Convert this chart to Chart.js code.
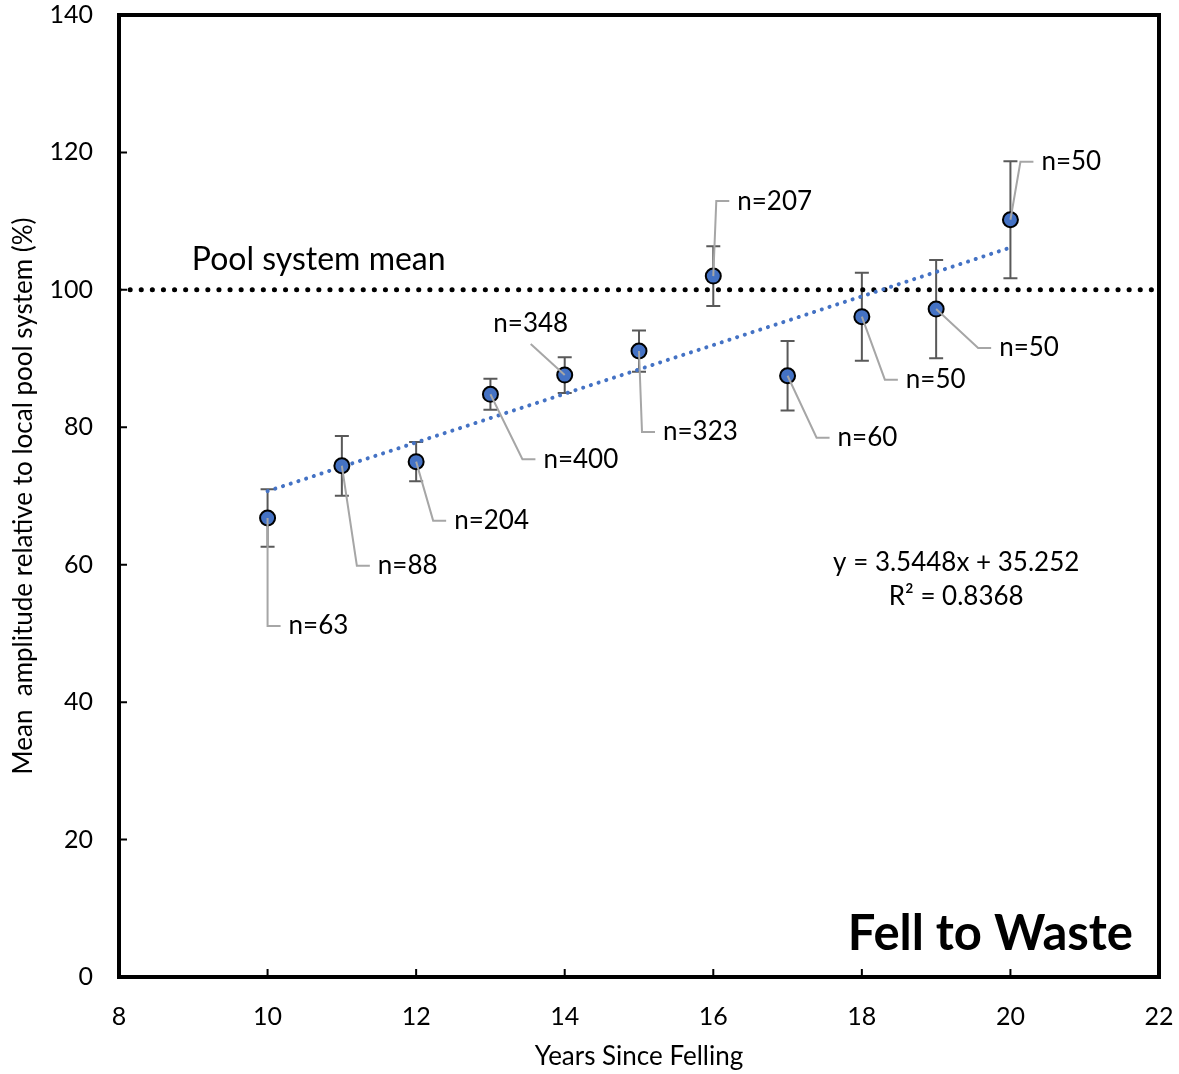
<!DOCTYPE html>
<html>
<head>
<meta charset="utf-8">
<script src="https://cdn.jsdelivr.net/npm/chart.js@4"></script>
<style>
  html, body { margin: 0; padding: 0; background: #fff; }
  #wrap { width: 1179px; height: 1074px; }
</style>
</head>
<body>
<div id="wrap"><canvas id="myChart" width="1179" height="1074"></canvas></div>
<script>
// data
const years = [10, 11, 12, 13, 14, 15, 16, 17, 18, 19, 20];
const meanAmplitude = [66.8, 74.4, 75.0, 84.8, 87.6, 91.1, 102.0, 87.5, 96.1, 97.2, 110.2];
const errorSize = [4.2, 4.35, 2.85, 2.25, 2.6, 3.0, 4.35, 5.05, 6.4, 7.15, 8.5];
const sampleSizes = [63, 88, 204, 400, 348, 323, 207, 60, 50, 50, 50];
const xTicks = [8, 10, 12, 14, 16, 18, 20, 22];
const yTicks = [0, 20, 40, 60, 80, 100, 120, 140];
const poolMean = 100;
const trendSlope = 3.5448;
const trendIntercept = 35.252;
const trendR2 = 0.8368;

// where the n= labels sit, pixel offset of the elbow from the point
const labelLayout = [
  { dx: 0, dy: 108 }, { dx: 15, dy: 100 }, { dx: 17, dy: 59 }, { dx: 32, dy: 65 },
  { dx: -34, dy: -31, above: true }, { dx: 3, dy: 81 }, { dx: 3, dy: -75 },
  { dx: 29, dy: 62 }, { dx: 23, dy: 63 }, { dx: 42, dy: 39 }, { dx: 10, dy: -58 }
];

const FONT = 'Lato, "Open Sans", sans-serif';
const BLUE = '#4472C4';

const trendX = [years[0], years[years.length - 1]];

const extras = {
  id: 'extras',
  beforeDatasetsDraw(chart) {
    const { ctx, scales: { x, y } } = chart;
    ctx.save();
    ctx.strokeStyle = '#595959';
    ctx.lineWidth = 2;
    years.forEach((yr, i) => {
      const px = x.getPixelForValue(yr);
      const top = y.getPixelForValue(meanAmplitude[i] + errorSize[i]);
      const bot = y.getPixelForValue(meanAmplitude[i] - errorSize[i]);
      ctx.beginPath();
      ctx.moveTo(px, top); ctx.lineTo(px, bot);
      ctx.moveTo(px - 7, top); ctx.lineTo(px + 7, top);
      ctx.moveTo(px - 7, bot); ctx.lineTo(px + 7, bot);
      ctx.stroke();
    });
    ctx.restore();
  },
  afterDatasetsDraw(chart) {
    const { ctx, chartArea: a, scales: { x, y } } = chart;
    ctx.save();
    // leader lines + n= labels
    ctx.font = '26px ' + FONT;
    ctx.fillStyle = '#000';
    ctx.textBaseline = 'middle';
    years.forEach((yr, i) => {
      const px = x.getPixelForValue(yr);
      const py = y.getPixelForValue(meanAmplitude[i]);
      const l = labelLayout[i];
      const ex = px + l.dx, ey = py + l.dy;
      ctx.strokeStyle = '#A6A6A6';
      ctx.lineWidth = 2;
      ctx.beginPath();
      ctx.moveTo(px, py);
      ctx.lineTo(ex, ey);
      if (!l.above) ctx.lineTo(ex + 13, ey);
      ctx.stroke();
      if (l.above) {
        ctx.textAlign = 'center';
        ctx.fillText('n=' + sampleSizes[i], ex, ey - 20);
      } else {
        ctx.textAlign = 'left';
        ctx.fillText('n=' + sampleSizes[i], ex + 21, ey);
      }
    });

    // pool mean label
    ctx.textAlign = 'left';
    ctx.font = '32px ' + FONT;
    ctx.fillText('Pool system mean', x.getPixelForValue(8.98), y.getPixelForValue(104.4));

    // trendline equation
    ctx.textAlign = 'center';
    ctx.font = '26px ' + FONT;
    const ex = x.getPixelForValue(19.27);
    ctx.fillText('y = ' + trendSlope + 'x + ' + trendIntercept, ex, y.getPixelForValue(60.3));
    ctx.fillText('R\u00B2 = ' + trendR2, ex, y.getPixelForValue(55.4));

    // panel title
    ctx.textAlign = 'right';
    ctx.textBaseline = 'alphabetic';
    ctx.font = 'bold 49px ' + FONT;
    ctx.fillText('Fell to Waste', a.right - 26, a.bottom - 27);

    // frame and inner ticks
    ctx.strokeStyle = '#000';
    ctx.lineWidth = 4;
    ctx.strokeRect(a.left, a.top, a.right - a.left, a.bottom - a.top);
    ctx.lineWidth = 2;
    ctx.beginPath();
    xTicks.forEach(t => {
      const px = x.getPixelForValue(t);
      ctx.moveTo(px, a.bottom); ctx.lineTo(px, a.bottom - 8);
    });
    yTicks.forEach(t => {
      const py = y.getPixelForValue(t);
      ctx.moveTo(a.left, py); ctx.lineTo(a.left + 8, py);
    });
    ctx.stroke();
    ctx.restore();
  }
};

new Chart(document.getElementById('myChart'), {
  type: 'scatter',
  data: {
    datasets: [
      {
        label: 'Pool system mean',
        data: [{ x: xTicks[0], y: poolMean }, { x: xTicks[xTicks.length - 1], y: poolMean }],
        showLine: true,
        borderColor: '#000',
        borderWidth: 5,
        borderDash: [0.1, 11],
        borderCapStyle: 'round',
        pointRadius: 0,
        order: 3
      },
      {
        label: 'Trend',
        data: trendX.map(v => ({ x: v, y: trendSlope * v + trendIntercept })),
        showLine: true,
        borderColor: BLUE,
        borderWidth: 4,
        borderDash: [0.1, 8],
        borderCapStyle: 'round',
        pointRadius: 0,
        order: 2
      },
      {
        label: 'Mean amplitude',
        data: years.map((v, i) => ({ x: v, y: meanAmplitude[i] })),
        backgroundColor: BLUE,
        borderColor: '#000',
        borderWidth: 2,
        pointRadius: 7.5,
        order: 1
      }
    ]
  },
  options: {
    responsive: false,
    animation: false,
    layout: { padding: { top: 15, right: 20, left: 0, bottom: 0 } },
    plugins: { legend: { display: false }, tooltip: { enabled: false } },
    scales: {
      x: {
        type: 'linear',
        min: 8, max: 22,
        afterFit: s => { s.height = 97; s.paddingLeft = 0; s.paddingRight = 0; },
        afterBuildTicks: s => { s.ticks = xTicks.map(v => ({ value: v })); },
        grid: { display: false },
        border: { display: false },
        ticks: { color: '#000', font: { family: FONT, size: 25 }, padding: 17 },
        title: { display: true, text: 'Years Since Felling', color: '#000',
                 font: { family: FONT, size: 26 }, padding: { top: 0, bottom: 2 } }
      },
      y: {
        min: 0, max: 140,
        afterFit: s => { s.width = 119; s.paddingTop = 0; s.paddingBottom = 0; },
        afterBuildTicks: s => { s.ticks = yTicks.map(v => ({ value: v })); },
        grid: { display: false },
        border: { display: false },
        ticks: { color: '#000', font: { family: FONT, size: 25 }, padding: 18 },
        title: { display: true, text: 'Mean  amplitude relative to local pool system (%)', color: '#000',
                 font: { family: FONT, size: 26 }, padding: { top: 8, bottom: 0 } }
      }
    }
  },
  plugins: [extras]
});
</script>
</body>
</html>
